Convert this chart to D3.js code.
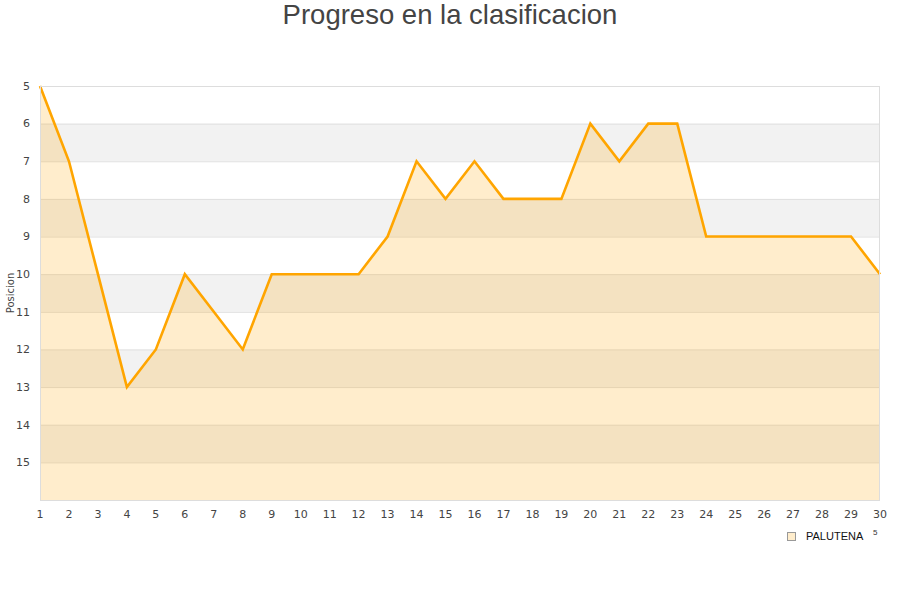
<!DOCTYPE html>
<html><head><meta charset="utf-8">
<script src="https://cdn.jsdelivr.net/npm/d3@7"></script>
<style>body{margin:0;background:#fff}</style>
</head><body>
<svg id="c" width="900" height="600"></svg>
<script>
const jornadas = d3.range(1, 31);
const posiciones = [5,7,10,13,12,10,11,12,10,10,10,10,9,7,8,7,8,8,8,6,7,6,6,9,9,9,9,9,9,10];
const yTicks = [5,6,7,8,9,10,11,12,13,14,15];
const seriesName = "PALUTENA";
const title = "Progreso en la clasificacion";
const yLabel = "Posicion";

const svg = d3.select("#c");
const m = {l:40, r:880, t:86, b:500};
const x = d3.scaleLinear().domain([1,30]).range([m.l, m.r]);
const y = d3.scaleLinear().domain([5,16]).range([m.t, m.b]);

// bands
const bands = d3.range(6, 16, 2);
svg.selectAll("rect.band").data(bands).join("rect")
  .attr("x", m.l).attr("width", m.r - m.l)
  .attr("y", d => y(d)).attr("height", d => y(d+1) - y(d))
  .attr("fill", "#f2f2f2");
// grid
svg.selectAll("line.grid").data(d3.range(6, 16)).join("line")
  .attr("x1", m.l).attr("x2", m.r)
  .attr("y1", d => y(d)+0.5).attr("y2", d => y(d)+0.5)
  .attr("stroke", "#e0e0e0");

const data = jornadas.map((j,i) => ({j, p: posiciones[i]}));
svg.append("path").datum(data)
  .attr("d", d3.area().x(d => x(d.j)).y0(y(16)).y1(d => y(d.p)))
  .attr("fill", "rgba(255,165,0,0.2)");
svg.append("path").datum(data)
  .attr("d", d3.line().x(d => x(d.j)).y(d => y(d.p)))
  .attr("fill", "none").attr("stroke", "#ffa500").attr("stroke-width", 2.6)
  .attr("stroke-linejoin", "miter");

// frame
svg.append("rect").attr("x", m.l+0.5).attr("y", m.t+0.5)
  .attr("width", m.r - m.l - 1).attr("height", m.b - m.t)
  .attr("fill", "none").attr("stroke", "#dddddd");

// y ticks
svg.selectAll("text.yt").data(yTicks).join("text")
  .attr("x", 30).attr("y", d => y(d)).attr("dy", "0.35em")
  .attr("text-anchor", "end")
  .attr("font-family", "DejaVu Sans").attr("font-size", 11).attr("fill", "#444")
  .text(d => d);
// x ticks
svg.selectAll("text.xt").data(jornadas).join("text")
  .attr("x", d => x(d)).attr("y", 518)
  .attr("text-anchor", "middle")
  .attr("font-family", "DejaVu Sans").attr("font-size", 11).attr("fill", "#444")
  .text(d => d);

svg.append("text").attr("transform", `translate(14,${(m.t+m.b)/2}) rotate(-90)`)
  .attr("text-anchor", "middle")
  .attr("font-family", "DejaVu Sans").attr("font-size", 10).attr("fill", "#444")
  .text(yLabel);

svg.append("text").attr("x", 450).attr("y", 24).attr("text-anchor", "middle")
  .attr("font-family", "Liberation Sans, Arial").attr("font-size", 27.5).attr("fill", "#444")
  .text(title);

// legend
svg.append("rect").attr("x", 787.5).attr("y", 532.5).attr("width", 8).attr("height", 8)
  .attr("fill", "#ffedcc").attr("stroke", "#999");
svg.append("text").attr("x", 806).attr("y", 540)
  .attr("font-family", "Liberation Sans, Arial").attr("font-size", 11).attr("fill", "#111")
  .text(seriesName);
svg.append("text").attr("x", 873).attr("y", 535)
  .attr("font-family", "Liberation Sans, Arial").attr("font-size", 8).attr("fill", "#333")
  .text("5");
</script>
</body></html>
